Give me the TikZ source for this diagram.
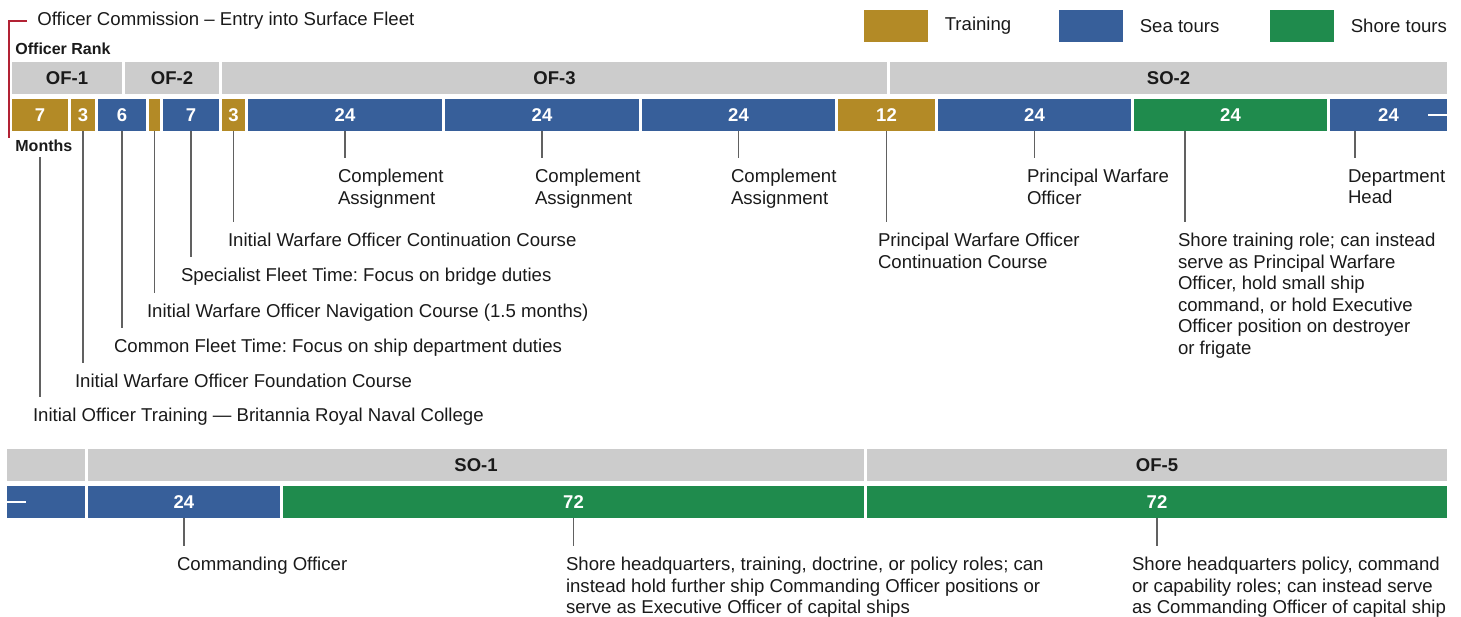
\documentclass[tikz,border=0pt]{standalone}
\usepackage{fontspec}
\setmainfont{Liberation Sans}
\usetikzlibrary{positioning}
\definecolor{train}{RGB}{179,138,38}
\definecolor{sea}{RGB}{55,95,154}
\definecolor{shore}{RGB}{31,139,77}
\definecolor{rank}{RGB}{204,204,204}
\definecolor{commred}{RGB}{178,34,52}
\definecolor{ink}{RGB}{26,26,26}
\frenchspacing
\begin{document}
\begin{tikzpicture}[x=0.5pt,y=-0.5pt,
  seg/.style={minimum height=16pt,inner sep=0pt,text=white,font=\bfseries\fontsize{9.25}{11}\selectfont},
  rk/.style={seg,fill=rank,text=ink},
  lbl/.style={anchor=north west,align=left,inner sep=0pt,outer xsep=0pt,outer ysep=5.6pt,text=ink,font=\fontsize{9.3}{10.75}\selectfont},
  tick/.style={draw=black!62,line width=0.65pt},
  head/.style={anchor=west,inner sep=0pt,text=ink,font=\bfseries\fontsize{8}{9.6}\selectfont},
  swatch/.style={minimum width=32pt,minimum height=16pt,inner sep=0pt},
  key/.style={inner sep=0pt,text=ink,font=\fontsize{9.3}{11}\selectfont}]
  \useasboundingbox (0,0) rectangle (1461,616);

  % legend
  \node[swatch,fill=train] (kTrain) at (896,26) {};
  \node[key,right=8pt of kTrain] (tTrain) {Training};
  \node[swatch,fill=sea] (kSea) at (1091,26) {};
  \node[key,right=8pt of kSea] (tSea) {Sea tours};
  \node[swatch,fill=shore] (kShore) at (1302,26) {};
  \node[key,right=8pt of kShore] (tShore) {Shore tours};

  \node[key,anchor=west,inner xsep=5pt] (entry) at (27,21) {Officer Commission – Entry into Surface Fleet};
  \coordinate (entryEnd) at (9,138);
  \draw[commred,line width=1.2pt] (entry.west) -| (entryEnd);
  \node[head] (rankHead) at (15,49) {Officer Rank};
  \node[head,outer ysep=2.5pt] (monthsHead) at (15,146) {Months};

  % ranks and months, first row
  \foreach \a/\b/\txt/\nm in {12/122/OF-1/r1, 125/219/OF-2/r2, 222/887/OF-3/r3, 890/1447/SO-2/r4}
    \node[rk,minimum width={(\b-\a)*0.5pt}] (\nm) at ({(\a+\b)/2},78) {\txt};
  \foreach \a/\b/\col/\txt/\nm in {12/68/train/7/m1, 71/95/train/3/m2, 98/146/sea/6/m3,
      149/160/train/{}/m4, 163/219/sea/7/m5, 222/245/train/3/m6, 248/442/sea/24/m7,
      445/639/sea/24/m8, 642/835/sea/24/m9, 838/935/train/12/m10, 938/1131/sea/24/m11,
      1134/1327/shore/24/m12, 1330/1447/sea/24/m13}
    \node[seg,fill=\col,minimum width={(\b-\a)*0.5pt}] (\nm) at ({(\a+\b)/2},115) {\txt};
  \draw[white,line width=0.8pt] ([xshift=-9.5pt]m13.east) -- (m13.east);

  \node[lbl] (l1) at (33,397) {Initial Officer Training — Britannia Royal Naval College};
  \node[lbl] (l2) at (75,363) {Initial Warfare Officer Foundation Course};
  \node[lbl] (l3) at (114,328) {Common Fleet Time: Focus on ship department duties};
  \node[lbl] (l4) at (147,293) {Initial Warfare Officer Navigation Course (1.5 months)};
  \node[lbl] (l5) at (181,257) {Specialist Fleet Time: Focus on bridge duties};
  \node[lbl] (l6) at (228,222) {Initial Warfare Officer Continuation Course};
  \node[lbl] (l7) at (338,158) {Complement\\Assignment};
  \node[lbl] (l8) at (535,158) {Complement\\Assignment};
  \node[lbl] (l9) at (731,158) {Complement\\Assignment};
  \node[lbl] (l10) at (878,222) {Principal Warfare Officer\\Continuation Course};
  \node[lbl] (l11) at (1027,158) {Principal Warfare\\Officer};
  \node[lbl] (l12) at (1178,222) {Shore training role; can instead\\serve as Principal Warfare\\Officer, hold small ship\\command, or hold Executive\\Officer position on destroyer\\or frigate};
  \node[lbl] (l13) at (1348,158) {Department\\Head};

  \draw[tick] (m1.south |- monthsHead.south) -- (m1.south |- l1.north);
  \foreach \m/\l in {m2/l2, m3/l3, m4/l4, m5/l5, m6/l6, m7/l7, m8/l8, m9/l9, m10/l10, m11/l11}
    \draw[tick] (\m.south) -- (\m.south |- \l.north);
  \coordinate (t12) at (1185,131);
  \draw[tick] (t12) -- (t12 |- l12.north);
  \coordinate (t13) at (1355,131);
  \draw[tick] (t13) -- (t13 |- l13.north);

  % second row
  \foreach \a/\b/\txt/\nm in {7/85/{}/s1, 88/864/SO-1/s2, 867/1447/OF-5/s3}
    \node[rk,minimum width={(\b-\a)*0.5pt}] (\nm) at ({(\a+\b)/2},465) {\txt};
  \foreach \a/\b/\col/\txt/\nm in {7/85/sea/{}/n1, 88/280/sea/24/n2, 283/864/shore/72/n3, 867/1447/shore/72/n4}
    \node[seg,fill=\col,minimum width={(\b-\a)*0.5pt}] (\nm) at ({(\a+\b)/2},502) {\txt};
  \draw[white,line width=0.8pt] (n1.west) -- ([xshift=9.5pt]n1.west);

  \node[lbl] (b1) at (177,546) {Commanding Officer};
  \node[lbl] (b2) at (566,546) {Shore headquarters, training, doctrine, or policy roles; can\\instead hold further ship Commanding Officer positions or\\serve as Executive Officer of capital ships};
  \node[lbl] (b3) at (1132,546) {Shore headquarters policy, command\\or capability roles; can instead serve\\as Commanding Officer of capital ship};
  \foreach \m/\l in {n2/b1, n3/b2, n4/b3}
    \draw[tick] (\m.south) -- (\m.south |- \l.north);
\end{tikzpicture}
\end{document}
